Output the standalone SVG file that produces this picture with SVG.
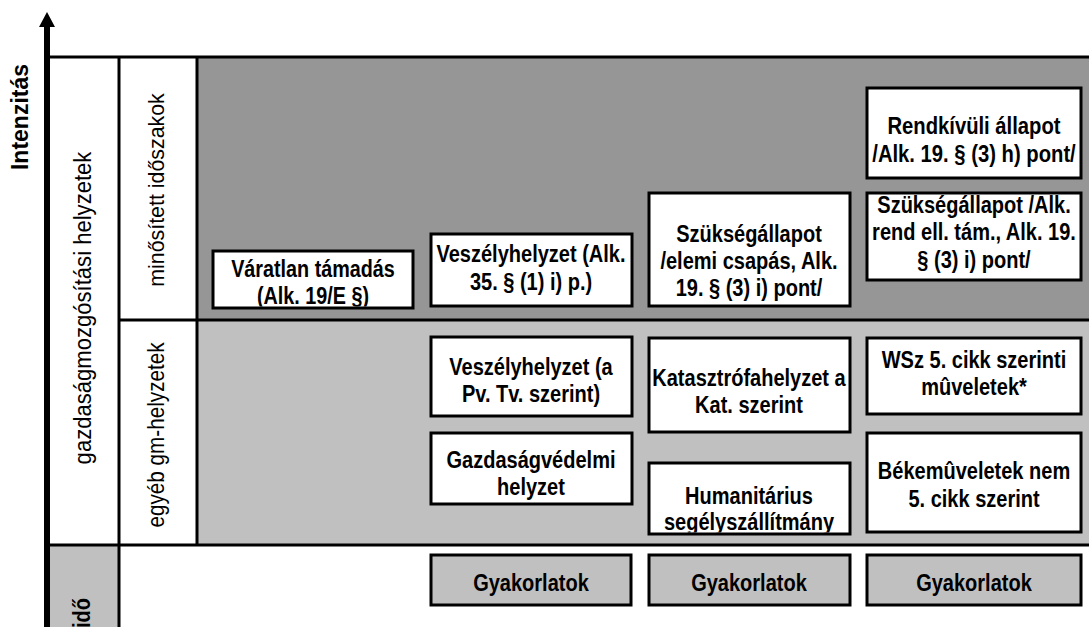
<svg xmlns="http://www.w3.org/2000/svg" width="1089" height="627" viewBox="0 0 1089 627">
<style>
.box{fill:#fff;stroke:#000;stroke-width:3}
.gy{fill:#c0c0c0;stroke:#000;stroke-width:3}
.ln{stroke:#000;stroke-width:3;fill:none}
.t{font-family:'Liberation Sans',Arial,sans-serif;font-size:23px;font-weight:bold;text-anchor:middle;fill:#000}
.lab{font-family:'Liberation Sans',Arial,sans-serif;font-size:23px;text-anchor:middle;fill:#000}
.ax{font-family:'Liberation Sans',Arial,sans-serif;font-size:23px;font-weight:bold;text-anchor:middle;fill:#000}
</style>
<defs>
<clipPath id="c1"><rect x="214.5" y="252.5" width="197" height="54"/></clipPath>
<clipPath id="c5"><rect x="868.5" y="194.5" width="211" height="84"/></clipPath>
<clipPath id="c9"><rect x="650.5" y="464.5" width="198" height="68"/></clipPath>
<clipPath id="cb"><rect x="48" y="546" width="70" height="81"/></clipPath>
</defs>
<rect width="1089" height="627" fill="#fff"/>
<g id="background">
<rect x="197" y="57" width="892" height="263" fill="#969696"/>
<rect x="197" y="320" width="892" height="225" fill="#c0c0c0"/>
<rect x="47" y="545" width="72" height="82" fill="#c0c0c0"/>
<line class="ln" x1="47" y1="57" x2="1089" y2="57"/>
<line class="ln" x1="119" y1="320" x2="1089" y2="320"/>
<line class="ln" x1="47" y1="545" x2="1089" y2="545"/>
<line class="ln" x1="119" y1="57" x2="119" y2="627"/>
<line class="ln" x1="197" y1="57" x2="197" y2="545"/>
</g>
<g id="connectors">
<line x1="47" y1="24" x2="47" y2="627" stroke="#000" stroke-width="6"/>
<polygon points="47,12 39,27 55,27" fill="#000"/>
</g>
<g id="axis-label"><text class="ax" transform="translate(28,117) rotate(-90)">Intenzitás</text></g>
<g id="row-gm"><text class="lab" transform="translate(91,308) rotate(-90) scale(0.96,1)">gazdaságmozgósítási helyzetek</text></g>
<g id="row-min"><text class="lab" transform="translate(164,190) rotate(-90) scale(0.93,1)">minősített időszakok</text></g>
<g id="row-egyeb"><text class="lab" transform="translate(164,435) rotate(-90) scale(0.9,1)">egyéb gm-helyzetek</text></g>
<g id="row-beke" clip-path="url(#cb)"><text class="t" transform="translate(90,598) rotate(-90) scale(0.87,1)" style="text-anchor:end">békeidő</text></g>

<g id="n-varatlan">
<rect class="box" x="213" y="251" width="200" height="57"/>
<g clip-path="url(#c1)"><text class="t" transform="translate(313,277) scale(0.86,1)">Váratlan támadás</text><text class="t" transform="translate(313,304) scale(0.86,1)">(Alk. 19/E §)</text></g>
</g>
<g id="n-veszely-alk">
<rect class="box" x="431" y="234" width="201" height="72"/>
<text class="t" transform="translate(531,262) scale(0.87,1)">Veszélyhelyzet (Alk.</text><text class="t" transform="translate(531,290) scale(0.87,1)">35. § (1) i) p.)</text>
</g>
<g id="n-szuks-elemi">
<rect class="box" x="649" y="193" width="201" height="113"/>
<text class="t" transform="translate(749,242) scale(0.87,1)">Szükségállapot</text><text class="t" transform="translate(749,269) scale(0.87,1)">/elemi csapás, Alk.</text><text class="t" transform="translate(749,296) scale(0.87,1)">19. § (3) i) pont/</text>
</g>
<g id="n-rendkivuli">
<rect class="box" x="867" y="88" width="214" height="90"/>
<text class="t" transform="translate(974,134) scale(0.88,1)">Rendkívüli állapot</text><text class="t" transform="translate(974,162) scale(0.88,1)">/Alk. 19. § (3) h) pont/</text>
</g>
<g id="n-szuks-alk">
<rect class="box" x="867" y="193" width="214" height="87"/>
<g clip-path="url(#c5)"><text class="t" transform="translate(974,213) scale(0.87,1)">Szükségállapot /Alk.</text><text class="t" transform="translate(974,240) scale(0.87,1)">rend ell. tám., Alk. 19.</text><text class="t" transform="translate(974,268) scale(0.87,1)">§ (3) i) pont/</text></g>
</g>
<g id="n-veszely-pv">
<rect class="box" x="431" y="337" width="201" height="79"/>
<text class="t" transform="translate(531,375) scale(0.87,1)">Veszélyhelyzet (a</text><text class="t" transform="translate(531,402) scale(0.87,1)">Pv. Tv. szerint)</text>
</g>
<g id="n-gazdasag">
<rect class="box" x="431" y="433" width="201" height="71"/>
<text class="t" transform="translate(531,468) scale(0.87,1)">Gazdaságvédelmi</text><text class="t" transform="translate(531,495) scale(0.87,1)">helyzet</text>
</g>
<g id="n-katasztrofa">
<rect class="box" x="649" y="338" width="201" height="94"/>
<text class="t" transform="translate(749,386) scale(0.87,1)">Katasztrófahelyzet a</text><text class="t" transform="translate(749,413) scale(0.87,1)">Kat. szerint</text>
</g>
<g id="n-humanitarius">
<rect class="box" x="649" y="463" width="201" height="71"/>
<g clip-path="url(#c9)"><text class="t" transform="translate(749,504) scale(0.87,1)">Humanitárius</text><text class="t" transform="translate(749,530) scale(0.87,1)">segélyszállítmány</text></g>
</g>
<g id="n-wsz">
<rect class="box" x="867" y="338" width="214" height="76"/>
<text class="t" transform="translate(974,368) scale(0.87,1)">WSz 5. cikk szerinti</text><text class="t" transform="translate(974,395) scale(0.87,1)">mûveletek*</text>
</g>
<g id="n-beke">
<rect class="box" x="867" y="433" width="214" height="99"/>
<text class="t" transform="translate(974,479) scale(0.87,1)">Békemûveletek nem</text><text class="t" transform="translate(974,507) scale(0.87,1)">5. cikk szerint</text>
</g>
<g id="n-gyak1"><rect class="gy" x="431" y="555" width="200" height="50"/><text class="t" transform="translate(531,591) scale(0.87,1)">Gyakorlatok</text></g>
<g id="n-gyak2"><rect class="gy" x="649" y="555" width="201" height="50"/><text class="t" transform="translate(749,591) scale(0.87,1)">Gyakorlatok</text></g>
<g id="n-gyak3"><rect class="gy" x="867" y="555" width="214" height="50"/><text class="t" transform="translate(974,591) scale(0.87,1)">Gyakorlatok</text></g>
</svg>
